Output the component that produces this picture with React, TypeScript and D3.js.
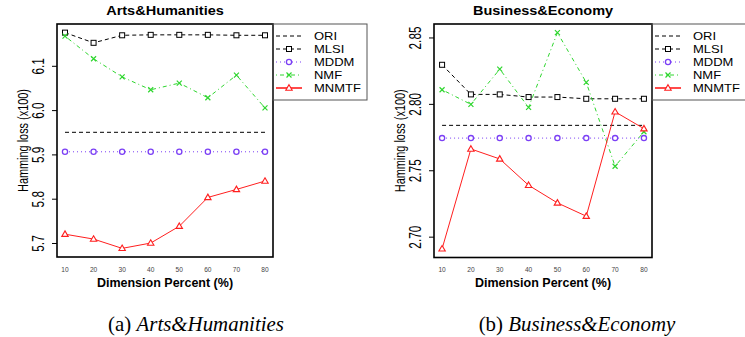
import React from "react";
import * as d3 from "d3";

const dims = [10, 20, 30, 40, 50, 60, 70, 80];
const seriesNames = ["ORI", "MLSI", "MDDM", "NMF", "MNMTF"];

// Arts&Humanities
const artsORI = [5.951, 5.951, 5.951, 5.951, 5.951, 5.951, 5.951, 5.951];
const artsMLSI = [6.176, 6.153, 6.17, 6.171, 6.171, 6.171, 6.17, 6.17];
const artsMDDM = [5.907, 5.907, 5.907, 5.907, 5.907, 5.907, 5.907, 5.907];
const artsNMF = [6.168, 6.117, 6.076, 6.047, 6.062, 6.029, 6.08, 6.006];
const artsMNMTF = [5.721, 5.71, 5.689, 5.701, 5.739, 5.804, 5.822, 5.841];
const artsTicks = [5.7, 5.8, 5.9, 6.0, 6.1];

// Business&Economy
const busORI = [2.7842, 2.7842, 2.7842, 2.7842, 2.7842, 2.7842, 2.7842, 2.7842];
const busMLSI = [2.8298, 2.8075, 2.8075, 2.8055, 2.8055, 2.8042, 2.8042, 2.8042];
const busMDDM = [2.7746, 2.7746, 2.7746, 2.7746, 2.7746, 2.7746, 2.7746, 2.7746];
const busNMF = [2.811, 2.8, 2.8265, 2.7977, 2.854, 2.8165, 2.7534, 2.7794];
const busMNMTF = [2.6912, 2.7664, 2.7589, 2.7391, 2.7258, 2.7158, 2.7944, 2.7817];
const busTicks = [2.7, 2.75, 2.8, 2.85];

const colors: Record<string, string> = {
  ORI: "#000000",
  MLSI: "#000000",
  MDDM: "#7b3ff5",
  NMF: "#2ed62e",
  MNMTF: "#ff1f1f",
};
const dashes: Record<string, string> = {
  ORI: "4,3",
  MLSI: "4,3",
  MDDM: "1,3",
  NMF: "1,3,4,3",
  MNMTF: "none",
};

const SANS = "'Liberation Sans', Arial, Helvetica, sans-serif";
const SERIF = "'Liberation Serif', 'Times New Roman', serif";

function Marker({ name, x, y }: { name: string; x: number; y: number }) {
  const c = colors[name];
  if (name === "MLSI")
    return <rect x={x - 2.5} y={y - 2.5} width={5} height={5} fill="white" stroke={c} strokeWidth={1} />;
  if (name === "MDDM") return <circle cx={x} cy={y} r={2.6} fill="white" stroke={c} strokeWidth={1.3} />;
  if (name === "NMF")
    return (
      <path d={`M${x - 2.5},${y - 2.5}L${x + 2.5},${y + 2.5}M${x - 2.5},${y + 2.5}L${x + 2.5},${y - 2.5}`} stroke={c} strokeWidth={1.2} fill="none" />
    );
  if (name === "MNMTF")
    return <path d={`M${x},${y - 3.3}L${x + 3.2},${y + 2.2}L${x - 3.2},${y + 2.2}Z`} fill="white" stroke={c} strokeWidth={1.1} />;
  return null;
}

function extend(vals: number[]) {
  const lo = d3.min(vals) as number;
  const hi = d3.max(vals) as number;
  const r = hi - lo;
  return [lo - 0.04 * r, hi + 0.04 * r];
}

function Panel({
  x0, x1, y0, y1, title, data, ticks, fmt,
}: {
  x0: number; x1: number; y0: number; y1: number; title: string;
  data: Record<string, number[]>; ticks: number[]; fmt: (v: number) => string;
}) {
  const xs = d3.scaleLinear().domain([7.2, 82.8]).range([x0, x1]);
  const all = Object.values(data).flat();
  const ys = d3.scaleLinear().domain(extend(all)).range([y1, y0]);
  const line = d3.line<number>().x((_, i) => xs(dims[i])).y((v) => ys(v));
  const cx = (x0 + x1) / 2;
  const cy = (y0 + y1) / 2;
  const lx = x1 + 3;
  return (
    <g>
      <text x={0} y={0} transform={`translate(${cx},15) scale(1.18,1)`} textAnchor="middle" fontFamily={SANS} fontWeight="bold" fontSize={12.3}>
        {title}
      </text>
      {seriesNames.map((n) => (
        <path key={n} d={line(data[n]) || ""} fill="none" stroke={colors[n]} strokeWidth={1} strokeDasharray={dashes[n]} />
      ))}
      {seriesNames.map((n) =>
        n === "ORI" ? null : data[n].map((v, i) => <Marker key={n + i} name={n} x={xs(dims[i])} y={ys(v)} />)
      )}
      <rect x={x0} y={y0} width={x1 - x0} height={y1 - y0} fill="none" stroke="black" strokeWidth={1.6} />
      {ticks.map((t) => (
        <g key={t}>
          <line x1={x0 - 5} x2={x0} y1={ys(t)} y2={ys(t)} stroke="black" strokeWidth={1} />
          <text transform={`translate(${x0 - 13},${ys(t)}) rotate(-90) scale(1,1.35)`} textAnchor="middle" fontFamily={SANS} fontSize={11.8}>
            {fmt(t)}
          </text>
        </g>
      ))}
      {dims.map((d) => (
        <text key={d} x={xs(d)} y={272} textAnchor="middle" fontFamily={SANS} fontSize={6.6} fill="#444">
          {d}
        </text>
      ))}
      <text x={cx} y={287} textAnchor="middle" fontFamily={SANS} fontWeight="bold" fontSize={12.5}>
        Dimension Percent (%)
      </text>
      <text transform={`translate(${x0 - 29},${cy}) rotate(-90) scale(1,1.35)`} textAnchor="middle" fontFamily={SANS} fontSize={10.9}>
        Hamming loss (x100)
      </text>
      <rect x={x1} y={y0} width={94} height={76} fill="none" stroke="#555" strokeWidth={1} />
      {seriesNames.map((n, i) => {
        const y = 36 + i * 13;
        return (
          <g key={n}>
            <line x1={lx} x2={lx + 26} y1={y} y2={y} stroke={colors[n]} strokeWidth={n === "MNMTF" ? 1.6 : 1} strokeDasharray={dashes[n]} />
            <Marker name={n} x={lx + 13} y={y} />
            <text transform={`translate(${x1 + 41},${y + 3.6}) scale(1.3,1)`} fontFamily={SANS} fontSize={10}>
              {n}
            </text>
          </g>
        );
      })}
    </g>
  );
}

export default function App() {
  const arts = { ORI: artsORI, MLSI: artsMLSI, MDDM: artsMDDM, NMF: artsNMF, MNMTF: artsMNMTF };
  const bus = { ORI: busORI, MLSI: busMLSI, MDDM: busMDDM, NMF: busNMF, MNMTF: busMNMTF };
  return (
    <svg width={745} height={337} style={{ position: "absolute", left: 0, top: 0, background: "white" }}>
      <rect width={745} height={337} fill="white" />
      <Panel x0={57} x1={273} y0={24} y1={257} title="Arts&Humanities" data={arts} ticks={artsTicks} fmt={(v) => v.toFixed(1)} />
      <Panel x0={434} x1={652} y0={24} y1={257.5} title="Business&Economy" data={bus} ticks={busTicks} fmt={(v) => v.toFixed(2)} />
      <text transform="translate(196,331) scale(1.02,1)" textAnchor="middle" fontFamily={SERIF} fontSize={20.5}>
        (a) <tspan fontStyle="italic">Arts&amp;Humanities</tspan>
      </text>
      <text transform="translate(577,331) scale(1.02,1)" textAnchor="middle" fontFamily={SERIF} fontSize={20.5}>
        (b) <tspan fontStyle="italic">Business&amp;Economy</tspan>
      </text>
    </svg>
  );
}
